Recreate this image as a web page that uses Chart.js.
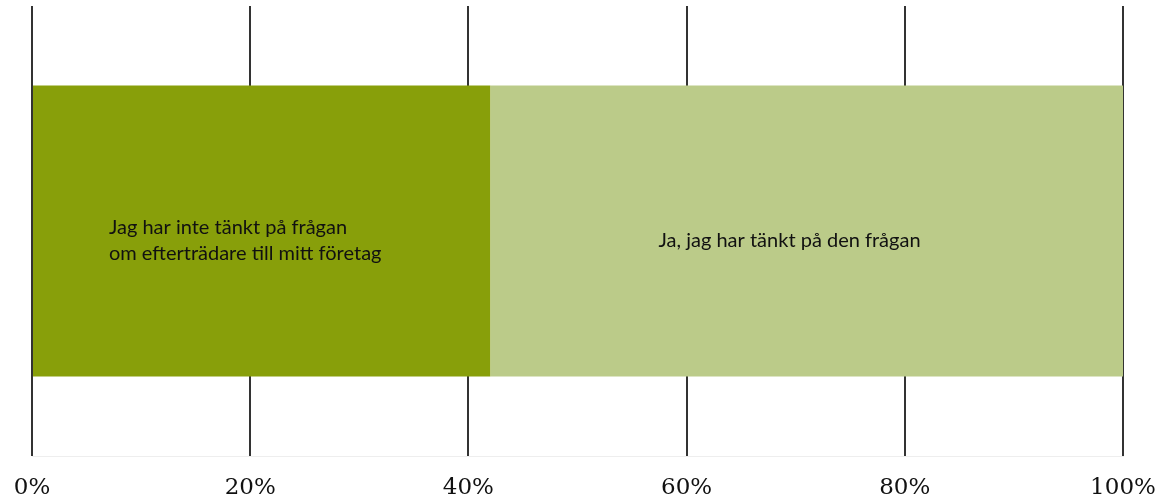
<!DOCTYPE html>
<html>
<head>
<meta charset="utf-8">
<script src="https://cdn.jsdelivr.net/npm/chart.js@4"></script>
<style>
  html, body { margin: 0; padding: 0; background: #fff; }
  #wrap { width: 1159px; height: 503px; }
</style>
</head>
<body>
<div id="wrap"><canvas id="myChart"></canvas></div>
<script>
// data
const categories = [""];
const seriesNames = [
  ["Jag har inte tänkt på frågan", "om efterträdare till mitt företag"],
  ["Ja, jag har tänkt på den frågan"]
];
const notThought = [42];
const thought = [58];
const tickValues = [0, 20, 40, 60, 80, 100];
const colors = ["#889F0A", "#BBCB89"];

/* etiketter inne i staplarna */
const labelStart = [0.166, 0.266];
const barLabels = {
  id: "barLabels",
  afterDatasetsDraw(chart) {
    const ctx = chart.ctx;
    ctx.save();
    ctx.fillStyle = "#111";
    ctx.font = "20px Lato";
    ctx.textBaseline = "alphabetic";
    ctx.textAlign = "left";
    chart.data.datasets.forEach((ds, i) => {
      const bar = chart.getDatasetMeta(i).data[0];
      const lines = seriesNames[i];
      const x0 = bar.base + (bar.x - bar.base) * labelStart[i];
      const lh = 26;
      const y0 = bar.y + 15.5 - (lines.length - 1) * lh / 2;
      lines.forEach((l, j) => ctx.fillText(l, x0, y0 + j * lh));
    });
    ctx.restore();
  }
};

const ctx1 = document.getElementById("myChart").getContext("2d");

const data1 = {
  labels: categories,
  datasets: [
    {
      label: seriesNames[0].join(" "),
      data: notThought,
      backgroundColor: colors[0],
    },
    {
      label: seriesNames[1].join(" "),
      data: thought,
      backgroundColor: colors[1],
    },
  ],
};

const config1 = {
  type: "bar",
  data: data1,
  plugins: [barLabels],
  options: {
    indexAxis: "y",
    responsive: true,
    maintainAspectRatio: false,
    animation: false,
    layout: { padding: { top: 6, left: 32, right: 36, bottom: 0 } },
    datasets: { bar: { barPercentage: 0.647, categoryPercentage: 1 } },
    plugins: {
      legend: { display: false },
      tooltip: { enabled: false },
    },
    scales: {
      x: {
        stacked: true,
        min: 0,
        max: 100,
        afterBuildTicks: (axis) => {
          axis.ticks = tickValues.map(v => ({ value: v }));
        },
        afterFit: (axis) => {
          axis.height = 47;
          axis.paddingLeft = 0;
          axis.paddingRight = 0;
        },
        grid: { color: "#333333", lineWidth: 2, drawTicks: false },
        border: { color: "#eeeeee", width: 1 },
        ticks: {
          padding: 18,
          color: "#111",
          font: { family: "DejaVu Serif", size: 23 },
          callback: (v) => v + "%",
        },
      },
      y: {
        stacked: true,
        display: false,
      },
    },
  },
};

const myChart1 = new Chart(ctx1, config1);
</script>
</body>
</html>
